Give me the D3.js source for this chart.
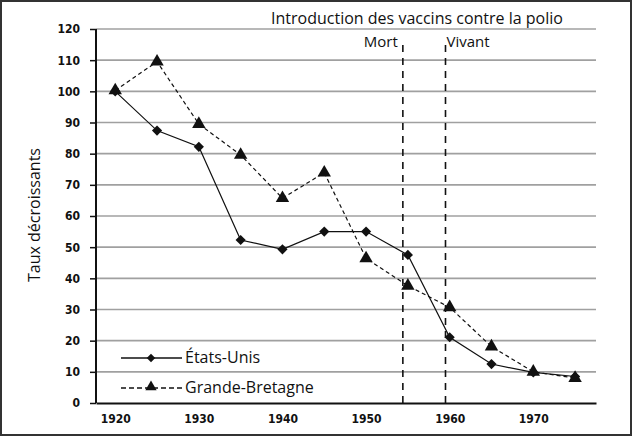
<!DOCTYPE html>
<html><head><meta charset="utf-8">
<script src="https://cdn.jsdelivr.net/npm/d3@7/dist/d3.min.js"></script>
<style>
html,body{margin:0;padding:0;background:#fff;}
svg{display:block;}
.tick-num{font-family:"Liberation Sans Narrow","DejaVu Sans Condensed",sans-serif;font-size:12px;fill:#111;}
.lbl{font-family:"Open Sans","Noto Sans",sans-serif;fill:#111;}
</style>
</head><body>
<svg id="c" width="632" height="436"></svg>
<script>
const years = [1920,1925,1930,1935,1940,1945,1950,1955,1960,1965,1970,1975];
const usValues = [100,87.4,82.2,52.3,49.3,55,55,47.5,21.1,12.5,9.8,8.5];
const gbValues = [100.3,109.5,89.5,79.6,65.7,73.9,46.4,37.6,30.7,18.1,10,8];
const yTicks = [0,10,20,30,40,50,60,70,80,90,100,110,120];
const xTicks = [1920,1930,1940,1950,1960,1970];
const vaccineYears = [1954.4,1959.5];
const vaccineLabels = ["Mort","Vivant"];
const seriesNames = ["États-Unis","Grande-Bretagne"];
const titleText = "Introduction des vaccins contre la polio";
const yTitle = "Taux décroissants";

const svg = d3.select("#c");
const W=632,H=436;
svg.append("rect").attr("x",1).attr("y",1).attr("width",W-2).attr("height",H-2)
  .attr("fill","#fff").attr("stroke","#333").attr("stroke-width",2);

const x = d3.scaleLinear().domain([1917.7,1977.5]).range([96,596]);
const y = d3.scaleLinear().domain([0,120]).range([403,29]);

// gridlines
svg.append("g").selectAll("line").data(yTicks.filter(d=>d>0)).join("line")
  .attr("x1",x.range()[0]).attr("x2",x.range()[1])
  .attr("y1",d=>y(d)).attr("y2",d=>y(d))
  .attr("stroke","#a0a0a0").attr("stroke-width",1.7);

// y axis
const yAxis = svg.append("g").attr("transform",`translate(${x.range()[0]},0)`)
  .call(d3.axisLeft(y).tickValues(yTicks).tickSize(6).tickPadding(10));
yAxis.select(".domain").attr("stroke","#111").attr("stroke-width",2).attr("d",`M0,${y(120)}V${y(0)}`);
yAxis.selectAll(".tick line").attr("stroke","#111").attr("stroke-width",1.5);
yAxis.selectAll(".tick text").attr("class","tick-num").attr("font-weight","bold");

// x axis
const xAxis = svg.append("g").attr("transform",`translate(0,${y(0)})`)
  .call(d3.axisBottom(x).tickValues(xTicks).tickFormat(d3.format("d")).tickSize(0).tickPadding(11));
xAxis.select(".domain").attr("stroke","#111").attr("stroke-width",2);
xAxis.selectAll(".tick text").attr("class","tick-num").attr("font-weight","bold");

// vaccine lines
svg.append("g").selectAll("line").data(vaccineYears).join("line")
  .attr("x1",d=>x(d)).attr("x2",d=>x(d)).attr("y1",45).attr("y2",y(0))
  .attr("stroke","#111").attr("stroke-width",1.6).attr("stroke-dasharray","7,6");
svg.append("text").attr("class","lbl").attr("x",x(vaccineYears[0])-5).attr("y",47)
  .attr("text-anchor","end").attr("font-size",15).text(vaccineLabels[0]);
svg.append("text").attr("class","lbl").attr("x",x(vaccineYears[1])+1).attr("y",47)
  .attr("text-anchor","start").attr("font-size",15).text(vaccineLabels[1]);

svg.append("text").attr("class","lbl").attr("x",417).attr("y",24)
  .attr("text-anchor","middle").attr("font-size",16).text(titleText);

svg.append("text").attr("class","lbl").attr("transform","translate(40,215) rotate(-90)")
  .attr("text-anchor","middle").attr("font-size",16).text(yTitle);

const line = d3.line().x(d=>x(d[0])).y(d=>y(d[1]));
const us = years.map((yr,i)=>[yr,usValues[i]]);
const gb = years.map((yr,i)=>[yr,gbValues[i]]);

svg.append("path").datum(gb).attr("d",line).attr("fill","none")
  .attr("stroke","#111").attr("stroke-width",1.2).attr("stroke-dasharray","4,3");
svg.append("path").datum(us).attr("d",line).attr("fill","none")
  .attr("stroke","#111").attr("stroke-width",1.2);

const diamond = d3.symbol().type(d3.symbolSquare).size(52);
const tri = d3.symbol().type(d3.symbolTriangle).size(78);

svg.append("g").selectAll("path").data(us).join("path")
  .attr("d",diamond).attr("transform",d=>`translate(${x(d[0])},${y(d[1])}) rotate(45)`).attr("fill","#111");
svg.append("g").selectAll("path").data(gb).join("path")
  .attr("d",tri).attr("transform",d=>`translate(${x(d[0])},${y(d[1])})`).attr("fill","#111");

// legend
const lg = svg.append("g");
const legY = [358,388];
lg.append("line").attr("x1",121).attr("x2",182).attr("y1",legY[0]).attr("y2",legY[0])
  .attr("stroke","#111").attr("stroke-width",1.5);
lg.append("path").attr("d",d3.symbol().type(d3.symbolSquare).size(36)).attr("transform",`translate(151,${legY[0]}) rotate(45)`).attr("fill","#111");
lg.append("line").attr("x1",121).attr("x2",182).attr("y1",legY[1]).attr("y2",legY[1])
  .attr("stroke","#111").attr("stroke-width",1.5).attr("stroke-dasharray","5,3");
lg.append("path").attr("d",d3.symbol().type(d3.symbolTriangle).size(55)).attr("transform",`translate(151,${legY[1]-1})`).attr("fill","#111");
seriesNames.forEach((n,i)=>{
  lg.append("text").attr("class","lbl").attr("x",185).attr("y",legY[i]+5)
    .attr("font-size",16).text(n);
});
</script>
</body></html>
